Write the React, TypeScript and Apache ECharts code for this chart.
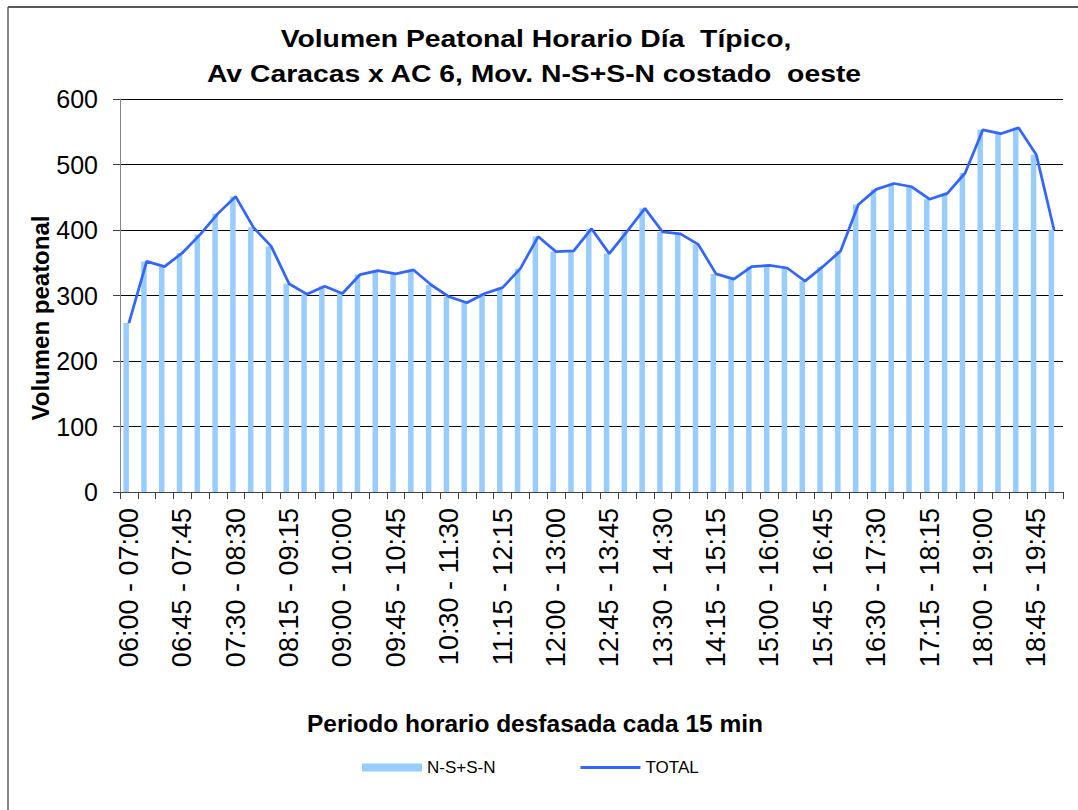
import React, { useEffect, useRef } from "react";
import * as echarts from "echarts";

const categories: string[] = [
  "06:00 - 07:00", "06:15 - 07:15", "06:30 - 07:30", "06:45 - 07:45", "07:00 - 08:00",
  "07:15 - 08:15", "07:30 - 08:30", "07:45 - 08:45", "08:00 - 09:00", "08:15 - 09:15",
  "08:30 - 09:30", "08:45 - 09:45", "09:00 - 10:00", "09:15 - 10:15", "09:30 - 10:30",
  "09:45 - 10:45", "10:00 - 11:00", "10:15 - 11:15", "10:30 - 11:30", "10:45 - 11:45",
  "11:00 - 12:00", "11:15 - 12:15", "11:30 - 12:30", "11:45 - 12:45", "12:00 - 13:00",
  "12:15 - 13:15", "12:30 - 13:30", "12:45 - 13:45", "13:00 - 14:00", "13:15 - 14:15",
  "13:30 - 14:30", "13:45 - 14:45", "14:00 - 15:00", "14:15 - 15:15", "14:30 - 15:30",
  "14:45 - 15:45", "15:00 - 16:00", "15:15 - 16:15", "15:30 - 16:30", "15:45 - 16:45",
  "16:00 - 17:00", "16:15 - 17:15", "16:30 - 17:30", "16:45 - 17:45", "17:00 - 18:00",
  "17:15 - 18:15", "17:30 - 18:30", "17:45 - 18:45", "18:00 - 19:00", "18:15 - 19:15",
  "18:30 - 19:30", "18:45 - 19:45", "19:00 - 20:00",
];

const nsValues: number[] = [
  258, 352, 344, 365, 393, 425, 451, 404, 375, 318,
  302, 314, 303, 332, 338, 333, 339, 316, 298, 289,
  303, 312, 341, 390, 367, 368, 402, 364, 398, 433,
  397, 394, 378, 333, 325, 344, 346, 342, 322, 344,
  368, 439, 462, 471, 466, 447, 456, 487, 553, 547,
  556, 515, 400,
];

const totalValues: number[] = [
  258, 352, 344, 365, 393, 425, 451, 404, 375, 318,
  302, 314, 303, 332, 338, 333, 339, 316, 298, 289,
  303, 312, 341, 390, 367, 368, 402, 364, 398, 433,
  397, 394, 378, 333, 325, 344, 346, 342, 322, 344,
  368, 439, 462, 471, 466, 447, 456, 487, 553, 547,
  556, 515, 400,
];

const yTicks = { min: 0, max: 600, interval: 100 };

const titleLine1 = "Volumen Peatonal Horario Día  Típico,";
const titleLine2 = "Av Caracas x AC 6, Mov. N-S+S-N costado  oeste";
const yTitle = "Volumen peatonal";
const xTitle = "Periodo horario desfasada cada 15 min";
const barName = "N-S+S-N";
const lineName = "TOTAL";

const FONT = "'Liberation Sans', Arial, sans-serif";

export default function App() {
  const ref = useRef<HTMLDivElement>(null);

  useEffect(() => {
    document.body.style.margin = "0";
    if (!ref.current) return;
    const chart = echarts.init(ref.current, undefined, { renderer: "svg" });
    chart.setOption({
      animation: false,
      backgroundColor: "#ffffff",
      textStyle: { fontFamily: FONT },
      grid: { left: 120, right: 15, top: 99, bottom: 318, containLabel: false },
      legend: {
        data: [
          { name: barName, icon: "rect" },
          { name: lineName, icon: "path://M0,0 L60,0 L60,3 L0,3 Z" },
        ],
        left: 362,
        top: 759,
        padding: 0,
        itemWidth: 60,
        itemHeight: 8,
        itemGap: 85,
        textStyle: { fontSize: 17, color: "#000", fontFamily: FONT },
      },
      xAxis: {
        type: "category",
        data: categories,
        boundaryGap: true,
        axisLine: { show: true, lineStyle: { color: "#404040", width: 1 } },
        axisTick: { show: true, interval: 0, length: 7, inside: false, lineStyle: { color: "#404040" } },
        axisLabel: {
          interval: 2,
          rotate: 90,
          margin: 16,
          fontSize: 27,
          color: "#000",
          fontFamily: FONT,
        },
        splitLine: { show: false },
      },
      yAxis: {
        type: "value",
        min: yTicks.min,
        max: yTicks.max,
        interval: yTicks.interval,
        axisLine: { show: true, lineStyle: { color: "#868686", width: 1 } },
        axisTick: { show: true, length: 7, inside: false, lineStyle: { color: "#404040" } },
        axisLabel: { margin: 22, fontSize: 25, color: "#000", fontFamily: FONT },
        splitLine: { show: true, lineStyle: { color: "#000", width: 1 } },
      },
      series: [
        {
          name: barName,
          type: "bar",
          data: nsValues,
          barWidth: 5.5,
          barGap: "0%",
          itemStyle: { color: "#99CCFF" },
          z: 2,
        },
        {
          name: "_spacer",
          type: "bar",
          data: nsValues.map(() => null),
          barWidth: 5.5,
          barGap: "0%",
          itemStyle: { color: "transparent" },
          silent: true,
        },
        {
          name: lineName,
          type: "line",
          data: totalValues,
          symbol: "none",
          showSymbol: false,
          lineStyle: { color: "#3366FF", width: 2.75 },
          itemStyle: { color: "#3366FF" },
          z: 3,
        },
      ],
      graphic: [
        {
          type: "line",
          shape: { x1: 8, y1: 7, x2: 1078, y2: 7 },
          style: { stroke: "#202020", lineWidth: 1.5 },
          silent: true,
        },
        {
          type: "line",
          shape: { x1: 8, y1: 7, x2: 8, y2: 810 },
          style: { stroke: "#606060", lineWidth: 1.5 },
          silent: true,
        },
        {
          type: "text",
          x: 536,
          y: 39,
          scaleX: 1.18,
          style: {
            text: titleLine1,
            fill: "#000",
            font: `bold 24px ${FONT}`,
            textAlign: "center",
            textVerticalAlign: "middle",
          },
        },
        {
          type: "text",
          x: 534,
          y: 74,
          scaleX: 1.18,
          style: {
            text: titleLine2,
            fill: "#000",
            font: `bold 24px ${FONT}`,
            textAlign: "center",
            textVerticalAlign: "middle",
          },
        },
        {
          type: "text",
          x: 40,
          y: 318,
          rotation: Math.PI / 2,
          style: {
            text: yTitle,
            fill: "#000",
            font: `bold 24px ${FONT}`,
            textAlign: "center",
            textVerticalAlign: "middle",
          },
        },
        {
          type: "text",
          x: 535,
          y: 723,
          style: {
            text: xTitle,
            fill: "#000",
            font: `bold 24.5px ${FONT}`,
            textAlign: "center",
            textVerticalAlign: "middle",
          },
        },
      ],
    });
    return () => chart.dispose();
  }, []);

  return <div ref={ref} style={{ width: 1078, height: 810 }} />;
}
